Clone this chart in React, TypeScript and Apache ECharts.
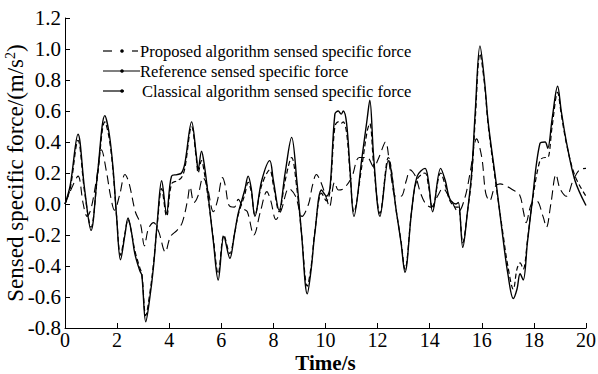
import React, { useEffect, useRef } from "react";
import * as echarts from "echarts";

const times = [0.0, 0.2, 0.5, 0.75, 1.0, 1.25, 1.53, 1.7, 1.85, 1.98, 2.13, 2.3, 2.42, 2.55, 2.68, 2.87, 2.95, 3.1, 3.26, 3.4, 3.55, 3.71, 3.9, 4.09, 4.3, 4.47, 4.6, 4.86, 5.05, 5.11, 5.24, 5.35, 5.5, 5.7, 5.88, 6.1, 6.33, 6.5, 6.65, 6.9, 7.03, 7.15, 7.29, 7.55, 7.86, 8.0, 8.22, 8.45, 8.7, 8.9, 9.08, 9.3, 9.45, 9.59, 9.85, 10.04, 10.17, 10.36, 10.49, 10.6, 10.68, 10.81, 10.95, 11.09, 11.4, 11.6, 11.7, 11.85, 12.09, 12.41, 12.73, 12.9, 13.05, 13.31, 13.52, 13.82, 13.95, 14.11, 14.42, 14.6, 14.78, 15.01, 15.1, 15.27, 15.45, 15.61, 15.75, 15.93, 16.1, 16.25, 16.54, 16.82, 17.0, 17.21, 17.35, 17.47, 17.59, 17.75, 17.91, 18.23, 18.43, 18.53, 18.7, 18.91, 19.05, 19.26, 19.58, 20.0];

const reference = [0.0, 0.12, 0.45, 0.1, -0.17, 0.2, 0.57, 0.45, 0.22, -0.08, -0.36, -0.2, -0.09, -0.18, -0.32, -0.43, -0.46, -0.76, -0.6, -0.4, -0.1, 0.15, -0.06, 0.18, 0.19, 0.2, 0.26, 0.53, 0.3, 0.22, 0.34, 0.25, 0.05, -0.25, -0.49, -0.21, -0.35, -0.2, -0.06, 0.09, 0.18, 0.1, -0.08, 0.15, 0.28, 0.15, -0.04, 0.2, 0.43, 0.15, -0.19, -0.58, -0.42, -0.19, 0.09, 0.05, 0.1, 0.58, 0.6, 0.58, 0.6, 0.52, 0.2, -0.08, 0.3, 0.55, 0.67, 0.3, -0.08, 0.28, -0.06, -0.25, -0.44, -0.04, 0.18, 0.23, 0.15, -0.05, 0.23, 0.15, 0.03, 0.0, 0.01, -0.28, -0.05, 0.2, 0.6, 1.02, 0.8, 0.52, 0.15, -0.23, -0.45, -0.61, -0.55, -0.45, -0.49, -0.25, -0.02, 0.39, 0.4, 0.36, 0.55, 0.76, 0.6, 0.39, 0.15, -0.01];

const proposed = [0.0, 0.1, 0.41, 0.08, -0.15, 0.18, 0.53, 0.42, 0.2, -0.08, -0.33, -0.19, -0.1, -0.18, -0.3, -0.41, -0.45, -0.72, -0.57, -0.38, -0.12, 0.1, -0.08, 0.13, 0.15, 0.17, 0.23, 0.5, 0.28, 0.2, 0.28, 0.2, 0.03, -0.23, -0.45, -0.2, -0.32, -0.2, -0.07, 0.06, 0.14, 0.08, -0.07, 0.12, 0.22, 0.12, -0.05, 0.15, 0.3, 0.1, -0.19, -0.53, -0.4, -0.18, 0.07, 0.02, 0.08, 0.5, 0.53, 0.52, 0.53, 0.46, 0.18, -0.05, 0.25, 0.47, 0.52, 0.25, -0.06, 0.3, -0.06, -0.24, -0.42, -0.04, 0.16, 0.2, 0.12, -0.03, 0.2, 0.12, 0.02, -0.02, -0.02, -0.25, -0.05, 0.17, 0.55, 0.97, 0.78, 0.5, 0.13, -0.2, -0.4, -0.55, -0.42, -0.38, -0.42, -0.24, -0.02, 0.28, 0.3, 0.3, 0.5, 0.72, 0.58, 0.38, 0.18, 0.05];

const classicalTimes = [0, 0.3, 0.5, 0.7, 0.85, 1.0, 1.2, 1.4, 1.6, 1.75, 1.9, 2.1, 2.3, 2.45, 2.7, 2.9, 3.05, 3.2, 3.4, 3.6, 3.85, 4.05, 4.3, 4.5, 4.7, 4.8, 4.95, 5.1, 5.3, 5.45, 5.7, 5.85, 6.05, 6.15, 6.3, 6.5, 6.65, 6.85, 7.0, 7.25, 7.5, 7.75, 7.9, 8.1, 8.3, 8.6, 8.85, 9.1, 9.35, 9.5, 9.65, 9.8, 10.05, 10.15, 10.35, 10.5, 10.7, 11.0, 11.3, 11.6, 11.85, 12.05, 12.3, 12.5, 12.7, 12.9, 13.1, 13.25, 13.45, 13.65, 13.85, 14.05, 14.3, 14.5, 14.8, 15.1, 15.35, 15.55, 15.8, 16.0, 16.15, 16.3, 16.5, 16.7, 16.9, 17.2, 17.45, 17.6, 17.7, 17.9, 18.1, 18.35, 18.48, 18.65, 18.85, 19.0, 19.25, 19.5, 19.75, 20.0];

const classical = [0.0, 0.12, 0.18, 0.0, -0.08, -0.03, 0.15, 0.35, 0.2, 0.05, -0.04, 0.06, 0.19, 0.14, -0.05, -0.13, -0.27, -0.16, -0.12, -0.18, -0.31, -0.21, -0.17, -0.12, 0.02, 0.11, 0.01, 0.05, 0.17, 0.12, -0.05, 0.02, 0.17, 0.12, -0.01, -0.02, 0.03, -0.03, -0.05, -0.2, -0.05, 0.08, 0.02, -0.1, -0.04, 0.1, 0.05, -0.08, 0.0, 0.12, 0.19, 0.15, 0.03, -0.02, 0.14, 0.09, 0.1, 0.17, 0.3, 0.3, 0.24, 0.3, 0.4, 0.2, 0.05, 0.05, 0.15, 0.22, 0.18, 0.07, 0.0, -0.02, 0.05, 0.1, 0.03, -0.05, 0.04, 0.2, 0.42, 0.3, 0.07, 0.02, 0.11, 0.13, 0.12, 0.09, 0.06, -0.05, -0.12, 0.0, 0.02, -0.08, -0.15, 0.0, 0.19, 0.1, 0.05, 0.15, 0.22, 0.23];

const legendLabels = [
  "Proposed algorithm sensed specific force",
  "Reference sensed specific force",
  "Classical algorithm sensed specific force",
];

const FONT = "'Liberation Serif', 'Times New Roman', serif";

export default function App() {
  const ref = useRef<HTMLDivElement>(null);
  useEffect(() => {
    if (!ref.current) return;
    const chart = echarts.init(ref.current, null, { renderer: "svg" });
    const pair = (ts: number[], vs: number[]) => ts.map((t, i) => [t, vs[i]]);
    const legendY = [51, 71, 91];
    const graphics: any[] = [];
    graphics.push({ type: "line", shape: { x1: 103, y1: legendY[0], x2: 112, y2: legendY[0] }, style: { stroke: "#000", lineWidth: 1.2 } });
    graphics.push({ type: "line", shape: { x1: 132, y1: legendY[0], x2: 138, y2: legendY[0] }, style: { stroke: "#000", lineWidth: 1.2 } });
    graphics.push({ type: "line", shape: { x1: 103, y1: legendY[1], x2: 140, y2: legendY[1] }, style: { stroke: "#000", lineWidth: 1.2 } });
    graphics.push({ type: "line", shape: { x1: 103, y1: legendY[2], x2: 124, y2: legendY[2] }, style: { stroke: "#000", lineWidth: 1.2 } });
    legendY.forEach((y) => {
      graphics.push({ type: "circle", shape: { cx: 122, cy: y, r: 1.8 }, style: { fill: "#000" } });
    });
    legendLabels.forEach((label, i) => {
      graphics.push({
        type: "text",
        x: i === 2 ? 142 : 140,
        y: legendY[i],
        style: { text: label, fill: "#000", font: `16.5px ${FONT}`, textVerticalAlign: "middle", textAlign: "left" },
      });
    });

    chart.setOption({
      animation: false,
      backgroundColor: "#fff",
      grid: { left: 65, right: 12, top: 18, bottom: 46, containLabel: false, outerBoundsMode: "none" },
      xAxis: {
        type: "value",
        min: 0,
        max: 20,
        interval: 2,
        name: "Time/s",
        nameLocation: "middle",
        nameGap: 24,
        nameMoveOverlap: false,
        nameTextStyle: { fontFamily: FONT, fontSize: 21, color: "#000", fontWeight: "bold", verticalAlign: "top" },
        axisLine: { show: true, onZero: false, lineStyle: { color: "#000", width: 1 } },
        axisTick: { show: true, inside: true, length: 5, lineStyle: { color: "#000" } },
        axisLabel: { fontFamily: FONT, fontSize: 20, color: "#000", margin: 2 },
        splitLine: { show: false },
      },
      yAxis: {
        type: "value",
        min: -0.8,
        max: 1.2,
        interval: 0.2,
        name: "Sensed specific force/(m/s{sup|2})",
        nameLocation: "middle",
        nameGap: 38,
        nameMoveOverlap: false,
        nameTextStyle: {
          fontFamily: FONT,
          fontSize: 23,
          color: "#000",
          rich: { sup: { fontFamily: FONT, fontSize: 14, color: "#000", padding: [0, 0, 10, 0] } },
        },
        axisLine: { show: true, onZero: false, lineStyle: { color: "#000", width: 1 } },
        axisTick: { show: true, inside: true, length: 5, lineStyle: { color: "#000" } },
        axisLabel: { fontFamily: FONT, fontSize: 21, color: "#000", margin: 4, formatter: (v: number) => v.toFixed(1) },
        splitLine: { show: false },
      },
      series: [
        {
          name: legendLabels[0],
          type: "line",
          data: pair(times, proposed),
          showSymbol: false,
          smooth: 0.35,
          lineStyle: { color: "#000", width: 1.2, type: [5, 3] },
          z: 3,
        },
        {
          name: legendLabels[1],
          type: "line",
          data: pair(times, reference),
          showSymbol: false,
          smooth: 0.35,
          lineStyle: { color: "#000", width: 1.4, type: "solid" },
          z: 2,
        },
        {
          name: legendLabels[2],
          type: "line",
          data: pair(classicalTimes, classical),
          showSymbol: false,
          smooth: 0.35,
          lineStyle: { color: "#000", width: 1.1, type: [9, 5] },
          z: 1,
        },
      ],
      graphic: graphics,
    });
    return () => chart.dispose();
  }, []);
  return <div ref={ref} style={{ position: "fixed", left: 0, top: 0, width: 598, height: 374, background: "#fff" }} />;
}
